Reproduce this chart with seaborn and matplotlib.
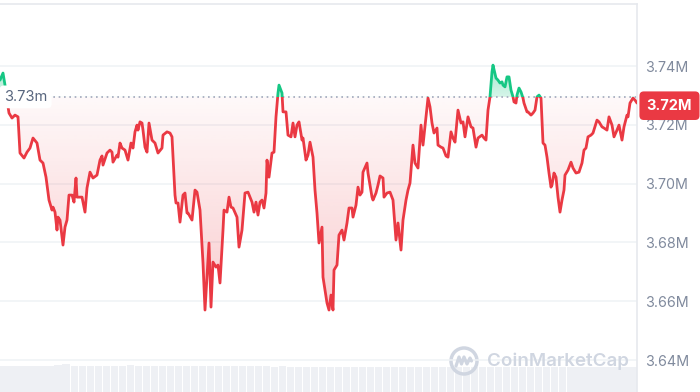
import numpy as np
import pandas as pd
import matplotlib
matplotlib.use("Agg")
import matplotlib.pyplot as plt
from matplotlib.patches import Rectangle, Circle
import seaborn as sns

# ---------------- data ----------------
t = [0, 3, 5, 7, 9, 12, 15, 18, 20, 24, 27, 30, 33, 37, 40, 43, 46, 49, 52, 53,
     55, 57, 58, 60, 63, 65, 67, 69, 72, 74, 76, 77, 80, 82, 85, 87, 90, 93, 97, 100,
     102, 103, 107, 110, 112, 113, 117, 118, 120, 122, 125, 128, 131, 133, 135, 137, 138, 140, 142, 143,
     145, 147, 149, 152, 155, 158, 162, 163, 167, 170, 172, 175, 176, 178, 180, 183, 185, 187, 188, 192,
     195, 197, 200, 203, 205, 207, 209, 211, 213, 216, 218, 220, 223, 224, 227, 229, 231, 233, 237, 239,
     242, 245, 248, 252, 254, 256, 258, 260, 262, 264, 266, 267, 269, 272, 274, 276, 278, 279, 282, 283,
     286, 288, 291, 293, 295, 297, 299, 302, 303, 306, 308, 310, 313, 315, 317, 319, 322, 323, 327, 329,
     331, 333, 334, 337, 339, 342, 344, 347, 349, 352, 353, 356, 358, 360, 362, 363, 367, 368, 372, 373,
     376, 378, 380, 383, 384, 387, 390, 393, 396, 398, 401, 403, 406, 408, 410, 413, 415, 418, 421, 423,
     427, 428, 430, 432, 434, 437, 438, 441, 443, 446, 448, 451, 453, 455, 458, 461, 463, 465, 468, 471,
     473, 476, 478, 482, 484, 486, 488, 490, 492, 493, 496, 498, 500, 502, 503, 505, 507, 509, 511, 513,
     514, 516, 517, 519, 521, 523, 524, 527, 528, 531, 533, 535, 537, 539, 541, 542, 543, 545, 547, 549,
     551, 552, 554, 556, 558, 560, 562, 564, 565, 568, 571, 573, 576, 579, 582, 584, 586, 588, 591, 593,
     597, 599, 602, 604, 607, 609, 612, 614, 617, 619, 622, 624, 627, 628, 630, 633, 635, 637]

price_m = [3.7352, 3.7376, 3.7335, 3.7284, 3.7240, 3.7223, 3.7233, 3.7227, 3.7104, 3.7087,
           3.7107, 3.7121, 3.7155, 3.7138, 3.7080, 3.7070, 3.7022, 3.6944, 3.6910, 3.6920,
           3.6903, 3.6842, 3.6886, 3.6876, 3.6791, 3.6852, 3.6876, 3.6961, 3.6961, 3.6937,
           3.7019, 3.6954, 3.6954, 3.6954, 3.6903, 3.6985, 3.7039, 3.7019, 3.7029, 3.7080,
           3.7094, 3.7063, 3.7104, 3.7114, 3.7107, 3.7073, 3.7097, 3.7090, 3.7138, 3.7121,
           3.7114, 3.7080, 3.7138, 3.7121, 3.7176, 3.7199, 3.7182, 3.7210, 3.7206, 3.7182,
           3.7124, 3.7107, 3.7206, 3.7148, 3.7138, 3.7104, 3.7121, 3.7165, 3.7176, 3.7172,
           3.7159, 3.6961, 3.6934, 3.6934, 3.6869, 3.6961, 3.6968, 3.6900, 3.6900, 3.6876,
           3.6978, 3.6971, 3.6910, 3.6730, 3.6570, 3.6682, 3.6798, 3.6580, 3.6733, 3.6716,
           3.6723, 3.6662, 3.6842, 3.6910, 3.6903, 3.6954, 3.6920, 3.6917, 3.6886, 3.6784,
           3.6842, 3.6968, 3.6971, 3.6937, 3.6903, 3.6937, 3.6893, 3.6937, 3.6944, 3.6917,
           3.6968, 3.7080, 3.7022, 3.7104, 3.7107, 3.7227, 3.7308, 3.7335, 3.7308, 3.7244,
           3.7244, 3.7165, 3.7159, 3.7206, 3.7159, 3.7199, 3.7210, 3.7148, 3.7155, 3.7080,
           3.7097, 3.7141, 3.7090, 3.6978, 3.6900, 3.6798, 3.6852, 3.6682, 3.6594, 3.6570,
           3.6621, 3.6570, 3.6706, 3.6723, 3.6825, 3.6842, 3.6808, 3.6866, 3.6917, 3.6917,
           3.6886, 3.6927, 3.6988, 3.6961, 3.6971, 3.7039, 3.7070, 3.7036, 3.6954, 3.6944,
           3.6968, 3.6995, 3.7026, 3.7019, 3.6954, 3.6968, 3.6971, 3.6944, 3.6808, 3.6866,
           3.6774, 3.6876, 3.6944, 3.6978, 3.7002, 3.7131, 3.7070, 3.7053, 3.7199, 3.7131,
           3.7261, 3.7291, 3.7261, 3.7206, 3.7172, 3.7189, 3.7131, 3.7124, 3.7121, 3.7094,
           3.7090, 3.7176, 3.7155, 3.7141, 3.7250, 3.7206, 3.7210, 3.7159, 3.7227, 3.7193,
           3.7189, 3.7124, 3.7155, 3.7165, 3.7155, 3.7148, 3.7250, 3.7295, 3.7380, 3.7403,
           3.7359, 3.7352, 3.7342, 3.7346, 3.7335, 3.7329, 3.7363, 3.7363, 3.7318, 3.7295,
           3.7278, 3.7274, 3.7301, 3.7325, 3.7312, 3.7291, 3.7274, 3.7244, 3.7244, 3.7233,
           3.7240, 3.7250, 3.7295, 3.7301, 3.7291, 3.7216, 3.7138, 3.7131, 3.7090, 3.7036,
           3.6988, 3.6995, 3.7036, 3.7022, 3.6954, 3.6903, 3.6944, 3.6978, 3.7029, 3.7046,
           3.7073, 3.7053, 3.7036, 3.7039, 3.7070, 3.7114, 3.7121, 3.7159, 3.7165, 3.7172,
           3.7216, 3.7210, 3.7193, 3.7189, 3.7182, 3.7227, 3.7199, 3.7159, 3.7182, 3.7199,
           3.7148, 3.7193, 3.7233, 3.7227, 3.7274, 3.7291, 3.7284, 3.7274]

baseline_m = 3.7295
baseline_label = "3.73m"
y_ticks = [3.64, 3.66, 3.68, 3.70, 3.72, 3.74]
y_tick_labels = ["3.64M", "3.66M", "3.68M", "3.70M", "3.72M", "3.74M"]
last_label = "3.72M"
watermark = "CoinMarketCap"

volume = [0.97, 0.96, 0.97, 0.97, 0.97, 0.97, 0.98, 1.02, 1.03, 0.98,
          0.97, 0.97, 0.97, 0.96, 0.97, 0.97, 1.00, 0.98, 0.97, 0.97,
          0.96, 0.97, 0.98, 0.97, 0.97, 0.96, 0.97, 0.97, 0.98, 0.97,
          0.96, 0.95, 0.95, 0.95, 0.94, 0.95, 0.94, 0.93, 0.93, 0.93,
          0.93, 0.94, 0.93, 0.93, 0.94, 0.93, 0.93, 0.93, 0.94, 0.93,
          0.93, 0.94, 0.94, 0.93, 0.93, 0.93, 0.93, 0.94, 0.93, 0.93,
          0.93, 0.93, 0.94, 0.93, 0.93, 0.93, 0.93, 0.93, 0.94, 0.93,
          0.93, 0.93, 0.93, 0.94, 0.93, 0.93, 0.93, 0.93, 0.93, 0.93]

# ---------------- style ----------------
sns.set_style("white")
plt.rcParams['font.family'] = ['Inter', 'DejaVu Sans']

RED = "#ea3943"
GREEN = "#16c784"
GRID = "#eff2f5"
TICK = "#808a9d"

df = pd.DataFrame({"t": t, "price": price_m})

W, H = 700, 392
fig = plt.figure(figsize=(W / 100, H / 100), dpi=100)
ax_w = 637 / W
ax = fig.add_axes([0, 0, ax_w, 388 / H])
ax2 = ax.twinx()
ax.set_zorder(ax2.get_zorder() + 1)
ax.patch.set_visible(False)

x0, x1 = 0, 637
ymin, ymax = 3.62912, 3.76109
ax.set_xlim(x0, x1)
ax.set_ylim(ymin, ymax)

# volume bars
vol_x = np.linspace(x0 + 2, x1 - 2, len(volume))
step = vol_x[1] - vol_x[0]
ax2.bar(vol_x, volume, width=step * 0.9, color="#eef0f4", linewidth=0)
ax2.set_ylim(0, 14.4)
ax2.set_axis_off()

# grid
for v in y_ticks:
    ax.axhline(v, color=GRID, lw=1.1, zorder=0)

# gradient fills clipped to the area between price and baseline
poly = ax.fill_between(df["t"], df["price"], baseline_m, facecolor="none", edgecolor="none")
clip = poly.get_paths()[0]

n = 256
red_img = np.zeros((n, 1, 4))
red_img[..., :3] = matplotlib.colors.to_rgb(RED)
red_img[:, 0, 3] = np.linspace(0.26, 0.03, n)  # bottom -> baseline
im_r = ax.imshow(red_img, extent=[x0, x1, 3.655, baseline_m], origin="lower",
                 aspect="auto", zorder=1, interpolation="bilinear")
im_r.set_clip_path(clip, ax.transData)

grn_img = np.zeros((n, 1, 4))
grn_img[..., :3] = matplotlib.colors.to_rgb(GREEN)
grn_img[:, 0, 3] = np.linspace(0.18, 0.40, n)  # baseline -> top
im_g = ax.imshow(grn_img, extent=[x0, x1, baseline_m, 3.741], origin="lower",
                 aspect="auto", zorder=1, interpolation="bilinear")
im_g.set_clip_path(clip, ax.transData)
ax.set_xlim(x0, x1)
ax.set_ylim(ymin, ymax)

# baseline dotted
ax.axhline(baseline_m, color="#a1a7bb", lw=1.2, linestyle=(0, (1, 2.2)), zorder=2)

# price line: red below baseline, green above
sns.lineplot(data=df, x="t", y="price", ax=ax, color=RED, lw=2.0, estimator=None, zorder=4)
line_r = ax.lines[-1]
line_r.set_clip_path(Rectangle((x0, ymin), x1 - x0, baseline_m - ymin, transform=ax.transData))
sns.lineplot(data=df, x="t", y="price", ax=ax, color=GREEN, lw=2.0, estimator=None, zorder=4)
line_g = ax.lines[-1]
line_g.set_clip_path(Rectangle((x0, baseline_m), x1 - x0, ymax - baseline_m, transform=ax.transData))
ax.set_xlim(x0, x1)
ax.set_ylim(ymin, ymax)

# baseline label
ax.text(4, baseline_m, baseline_label, ha="left", va="center", fontsize=10.5, color="#58667e",
        zorder=5, bbox=dict(boxstyle="round,pad=0.3", fc="white", ec="none"))

# axes styling
ax.set_xlabel("")
ax.set_ylabel("")
ax.set_xticks([])
ax.yaxis.tick_right()
ax.set_yticks(y_ticks)
ax.set_yticklabels(y_tick_labels)
ax.tick_params(axis="y", length=0, pad=6, labelsize=10.3, labelcolor=TICK)
for s in ["left", "bottom"]:
    ax.spines[s].set_visible(False)
for s in ["top", "right"]:
    ax.spines[s].set_visible(True)
    ax.spines[s].set_color("#e6e9ee")
    ax.spines[s].set_linewidth(1.2)

# last price tag
ax.annotate(last_label, xy=(1.0, price_m[-1] - 0.0009), xycoords=("axes fraction", "data"),
            xytext=(7, 0), textcoords="offset points", ha="left", va="center",
            fontsize=10.5, fontweight="bold", color="white", zorder=10, annotation_clip=False,
            bbox=dict(boxstyle="round,pad=0.5,rounding_size=0.3", fc=RED, ec="none"))

# watermark
wm = "#d0d6e1"
cx, cy = 4.64, (H - 361) / 100
fig.add_artist(Circle((cx, cy), 0.13, transform=fig.dpi_scale_trans, fill=False,
                      ec=wm, lw=2.5))
wx = [cx - 0.08, cx - 0.05, cx - 0.025, cx, cx + 0.03, cx + 0.06, cx + 0.075]
wy = [cy - 0.05, cy + 0.04, cy - 0.03, cy + 0.04, cy - 0.03, cy + 0.03, cy + 0.0]
fig.add_artist(plt.Line2D(wx, wy, transform=fig.dpi_scale_trans, color=wm, lw=2.3,
                          solid_joinstyle="round", solid_capstyle="round"))
fig.text(487 / W, cy / (H / 100), watermark, ha="left", va="center", fontsize=13.5,
         fontweight="semibold", color=wm)

fig.savefig("out.png", dpi=100)
